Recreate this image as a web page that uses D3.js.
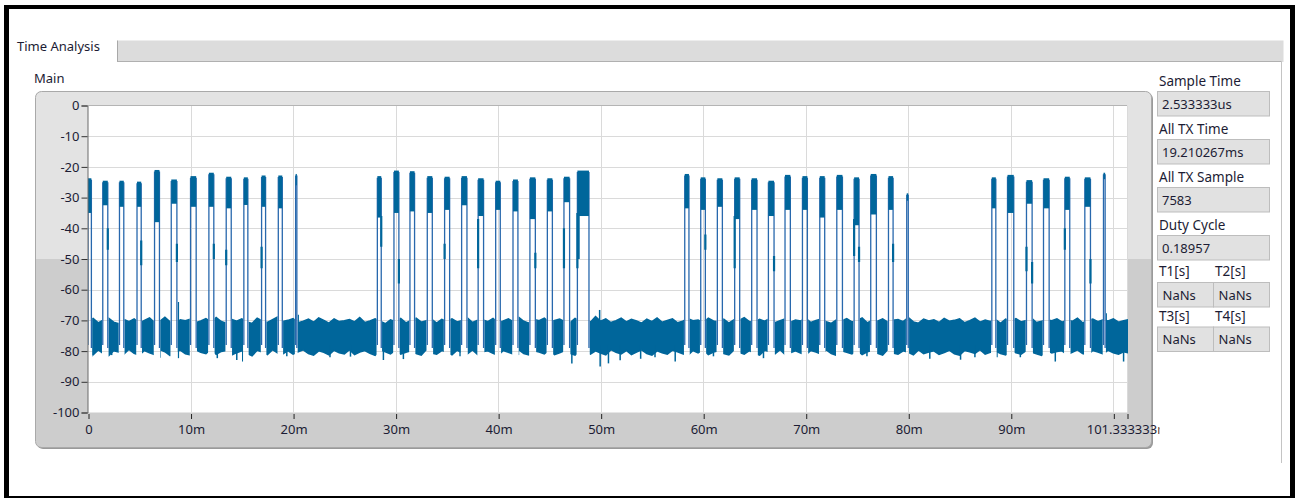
<!DOCTYPE html>
<html><head><meta charset="utf-8">
<script src="https://cdn.jsdelivr.net/npm/d3@7"></script>
<style>
body{margin:0;background:#fff;}
svg{display:block;font-family:"Noto Sans","Open Sans",sans-serif;}
</style>
</head><body>
<svg id="c" width="1295" height="498"></svg>
<script>
// ---------------- DATA ----------------
const xTicks = [0,10,20,30,40,50,60,70,80,90,100,101.333333];
const xTickLabels = ["0","10m","20m","30m","40m","50m","60m","70m","80m","90m","","101.333333m"];
const yTicks = [0,-10,-20,-30,-40,-50,-60,-70,-80,-90,-100];
const xMax = 101.333333;

// bursts (ms, dB)
const burstStart = [0.0,1.44,3.07,4.78,6.49,8.12,10.0,11.79,13.48,15.2,16.93,18.56,20.25,
  28.22,29.84,31.4,33.09,34.78,36.44,38.05,39.76,41.45,43.1,44.8,46.42,47.73,
  58.2,59.76,61.38,63.07,64.73,66.36,67.98,69.68,71.37,73.03,74.72,76.34,78.07,79.85,
  88.15,89.68,91.53,93.19,95.27,97.22,99.04];
const burstEnd = [0.33,1.93,3.49,5.19,6.97,8.67,10.55,12.27,13.97,15.59,17.32,18.95,20.37,
  28.6,30.32,31.85,33.58,35.27,36.96,38.58,40.21,41.93,43.63,45.29,46.97,48.86,
  58.61,60.21,61.87,63.56,65.25,66.91,68.5,70.16,71.85,73.58,75.2,76.89,78.52,80.0,
  88.54,90.29,92.08,93.74,95.75,97.77,99.2];
const burstTop = [-23.7,-24.5,-24.5,-24.8,-21,-24.1,-23,-21.9,-23.2,-23.4,-22.8,-22.8,-22.3,
  -23,-21.2,-21.4,-23,-23.2,-23,-23.7,-24.5,-24.1,-23.4,-23.7,-23.2,-21.2,
  -22.3,-23.4,-23.7,-23.4,-23.7,-24.5,-22.6,-23,-23,-22.6,-23.4,-22.3,-23,-28.6,
  -23.4,-22.6,-24.3,-23.7,-23.2,-23.4,-21.9];
const burstBottom = [-35,-32.5,-33,-33,-38,-32,-33,-33,-33.5,-32.4,-33,-33.5,-26,
  -36.5,-35,-34.5,-35,-34,-32.5,-36,-34,-34.5,-37,-34.5,-31.5,-36,
  -33.5,-34,-33,-37,-34,-36,-34,-34,-36.5,-34,-39,-35.5,-34,-31,
  -33.5,-35,-32,-33.5,-34,-33,-24];
// lighter edge traces inside bursts: [ms, from dB, to dB]
const burstTails = [[1.93,-40,-47],[5.19,-44,-52],[8.67,-45,-51],[12.27,-45,-50],[13.48,-47,-52],[16.93,-46,-53],
  [28.6,-36,-46],[30.32,-50,-58],[34.78,-45,-50],[38.05,-37,-53],[43.63,-48,-53],[46.42,-40,-53],[47.73,-35,-53],[47.85,-35,-50],
  [60.21,-42,-47],[63.07,-36,-53],[66.91,-49,-54],[74.72,-37,-49],[75.2,-46,-51],[78.52,-45,-51],
  [91.53,-46,-54],[92.08,-51,-58],[95.27,-40,-47],[97.77,-50,-58]];

// noise floor envelope, every 0.5 ms from 0 to 101.5 ms
const noiseTop = [-70.2,-69.4,-70.8,-69.9,-69.3,-70.6,-71.1,-69.7,-70.4,-69.5,
-70.9,-70.0,-69.2,-70.7,-70.3,-69.0,-70.5,-71.2,-69.8,-70.1,
-69.6,-70.8,-70.2,-69.4,-70.6,-69.1,-70.4,-70.9,-69.7,-70.3,
-69.5,-70.5,-71.0,-69.3,-70.2,-70.7,-69.8,-68.9,-70.4,-70.0,
-69.4,-70.8,-70.3,-69.6,-70.6,-69.2,-70.0,-70.9,-69.5,-70.4,
-70.1,-69.7,-70.5,-69.1,-70.7,-70.2,-69.5,-70.3,-71.1,-69.8,
-70.4,-69.4,-70.8,-70.0,-69.3,-70.6,-70.1,-69.6,-70.9,-69.7,
-70.3,-69.5,-70.5,-70.0,-69.2,-70.7,-70.0,-69.8,-70.4,-69.4,
-70.8,-70.2,-69.5,-70.5,-69.0,-70.3,-70.9,-69.7,-70.1,-69.3,
-70.6,-70.0,-69.6,-70.4,-70.8,-69.4,-70.2,-69.8,-70.6,-68.8,
-70.3,-69.5,-70.7,-70.1,-69.3,-70.5,-69.7,-70.2,-70.9,-69.6,
-70.4,-69.2,-70.6,-70.0,-69.5,-70.8,-70.3,-69.4,-70.1,-69.9,
-70.7,-69.3,-70.2,-70.5,-69.6,-70.9,-69.8,-70.0,-69.1,-70.4,
-70.6,-69.7,-70.3,-69.4,-70.8,-70.1,-69.5,-70.6,-69.9,-70.2,
-69.3,-70.7,-70.0,-69.6,-70.4,-71.0,-69.8,-70.2,-69.4,-70.5,
-70.1,-69.2,-70.8,-69.9,-70.3,-69.5,-70.6,-70.0,-69.7,-70.4,
-69.1,-70.5,-70.9,-69.6,-70.2,-69.8,-70.7,-69.4,-70.3,-70.0,
-69.5,-70.8,-70.1,-69.3,-70.6,-69.9,-70.4,-69.7,-71.0,-69.6,
-70.2,-69.4,-70.5,-70.0,-69.2,-70.7,-70.3,-69.8,-70.1,-69.5,
-70.6,-69.9,-70.3,-69.3,-70.8,-70.0,-69.6,-70.4,-69.8,-70.2,
-69.5,-70.6,-70.1,-69.8];
const noiseBottom = [-80.4,-81.2,-79.6,-80.8,-81.5,-79.9,-80.3,-81.0,-79.4,-80.7,
-81.3,-79.8,-80.5,-81.1,-79.5,-80.2,-81.4,-80.0,-79.7,-80.9,
-81.2,-79.6,-80.4,-80.8,-79.3,-81.0,-80.1,-79.8,-81.3,-80.5,
-79.9,-80.7,-81.5,-79.7,-80.3,-81.1,-79.5,-80.6,-80.9,-79.8,
-81.0,-80.2,-79.6,-80.8,-81.3,-79.9,-80.4,-81.2,-79.7,-80.5,
-80.9,-79.5,-81.1,-80.3,-79.8,-80.7,-81.4,-79.6,-80.2,-80.9,
-79.7,-81.0,-80.4,-79.9,-80.8,-81.3,-79.5,-80.6,-81.0,-79.8,
-80.3,-81.2,-79.7,-80.5,-80.9,-79.6,-81.1,-80.2,-79.9,-80.7,
-81.4,-79.8,-80.4,-81.0,-79.5,-80.8,-81.2,-79.9,-80.3,-80.9,
-79.6,-81.1,-80.5,-79.8,-80.7,-81.3,-79.7,-80.2,-81.0,-79.9,
-80.6,-81.2,-79.5,-80.4,-80.9,-79.8,-81.1,-80.3,-79.6,-80.8,
-81.3,-79.9,-80.5,-81.0,-79.7,-80.2,-80.9,-81.4,-79.8,-80.6,
-79.5,-81.1,-80.3,-79.9,-80.8,-81.2,-79.6,-80.4,-81.0,-79.8,
-80.7,-81.3,-79.7,-80.2,-80.9,-79.5,-81.1,-80.5,-79.9,-80.6,
-81.2,-79.8,-80.3,-81.0,-79.6,-80.8,-81.4,-79.9,-80.4,-80.9,
-79.7,-81.1,-80.2,-79.8,-80.7,-81.3,-79.5,-80.6,-81.0,-79.9,
-80.4,-81.2,-79.6,-80.8,-80.3,-79.9,-81.1,-80.5,-79.7,-80.9,
-81.3,-79.8,-80.2,-80.7,-79.5,-81.0,-80.4,-79.9,-80.8,-81.2,
-79.6,-80.5,-81.0,-79.8,-80.3,-80.9,-81.4,-79.7,-80.6,-80.1,
-79.9,-81.1,-80.4,-79.6,-80.8,-81.2,-79.8,-80.3,-80.9,-79.7,
-80.5,-81.0,-80.2,-80.6];
// isolated noise spikes [ms, dB]
const noiseSpikes = [[0.36,-81.8],[2.31,-81.3],[7.02,-82.2],[8.81,-82.3],[8.81,-64],[12.61,-82.3],[14.51,-82.9],
  [15.09,-83.4],[16.95,-81.7],[19.39,-81.7],[20.5,-68.2],[23.6,-82],[25.6,-81.8],[28.81,-82.9],[30.76,-82.6],
  [36.29,-81.7],[41.98,-81.3],[47.19,-84],[49.95,-85],[49.9,-66.6],[50.76,-84],[51.9,-83],[53.9,-82.5],
  [55.3,-82],[57.27,-83.4],[61.0,-81.7],[65.88,-82.3],[70.12,-84.5],[75.97,-81.7],[82.1,-82.5],[85.1,-82.8],
  [86.5,-82],[88.65,-82],[90.93,-82],[94.34,-83.4],[97.43,-82.3],[99.3,-67.7],[101.0,-83.4]];

const infoLabels = ["Sample Time","All TX Time","All TX Sample","Duty Cycle"];
const infoValues = ["2.533333us","19.210267ms","7583","0.18957"];
const cursorLabels = ["T1[s]","T2[s]","T3[s]","T4[s]"];
const cursorValues = ["NaNs","NaNs","NaNs","NaNs"];

// ---------------- DRAW ----------------
const svg = d3.select("#c");
const defs = svg.append("defs");
const TXT = "#1c1c34";
const SIG = "#00669b";
const EDGE = "#2868ad";
const FS = 13;

// outer black frame
svg.append("rect").attr("x",4).attr("y",5).attr("width",1291).attr("height",4).attr("fill","#000");
svg.append("rect").attr("x",4).attr("y",5).attr("width",5).attr("height",493).attr("fill","#000");
svg.append("rect").attr("x",1290).attr("y",5).attr("width",5).attr("height",493).attr("fill","#000");
svg.append("rect").attr("x",4).attr("y",496).attr("width",1291).attr("height",2).attr("fill","#000");

// tab row
svg.append("rect").attr("x",117.5).attr("y",40.5).attr("width",1166).attr("height",21.5)
  .attr("fill","#dcdcdc").attr("stroke","none");
svg.append("line").attr("x1",117.5).attr("x2",117.5).attr("y1",40.5).attr("y2",62).attr("stroke","#a8a8a8");
svg.append("line").attr("x1",117.5).attr("x2",1281.5).attr("y1",61.5).attr("y2",61.5).attr("stroke","#b0b0b0");
svg.append("line").attr("x1",1281.5).attr("x2",1281.5).attr("y1",61.5).attr("y2",463).attr("stroke","#c4c4c4");
svg.append("text").attr("x",17).attr("y",51).attr("font-size",FS).attr("fill",TXT).text("Time Analysis");
svg.append("text").attr("x",34).attr("y",83).attr("font-size",FS).attr("fill",TXT).text("Main");

// chart frame
const fx=35.5, fy=91.5, fw=1116, fh=356, split=259;
svg.append("rect").attr("x",fx+1.5).attr("y",fy+1.5).attr("width",fw).attr("height",fh).attr("rx",6)
  .attr("fill","#9a9a9a");
defs.append("clipPath").attr("id","frameClip").append("rect")
  .attr("x",fx).attr("y",fy).attr("width",fw).attr("height",fh).attr("rx",6);
const fr = svg.append("g").attr("clip-path","url(#frameClip)");
fr.append("rect").attr("x",fx).attr("y",fy).attr("width",fw).attr("height",fh).attr("fill","#cdcdcd");
fr.append("rect").attr("x",fx).attr("y",fy).attr("width",fw).attr("height",split-fy).attr("fill","#e3e3e3");
svg.append("rect").attr("x",fx).attr("y",fy).attr("width",fw).attr("height",fh).attr("rx",6)
  .attr("fill","none").attr("stroke","#a9a9a9");

// scales
const x = d3.scaleLinear().domain([0,xMax]).range([88,1127]);
const y = d3.scaleLinear().domain([0,-100]).range([105.5,412.5]);

// plot background
svg.append("rect").attr("x",x(0)).attr("y",y(0)).attr("width",x(xMax)-x(0)).attr("height",y(-100)-y(0)).attr("fill","#fff");

// grid
const grid = svg.append("g").attr("stroke","#dadada").attr("stroke-width",1);
xTicks.filter(d=>d>0 && d<xMax).forEach(d=>{
  grid.append("line").attr("x1",Math.round(x(d))+0.5).attr("x2",Math.round(x(d))+0.5).attr("y1",y(0)).attr("y2",y(-100));
});
yTicks.filter(d=>d<0 && d>-100).forEach(d=>{
  grid.append("line").attr("x1",x(0)).attr("x2",x(xMax)).attr("y1",Math.round(y(d))+0.5).attr("y2",Math.round(y(d))+0.5);
});
svg.append("line").attr("x1",x(0)).attr("x2",x(xMax)).attr("y1",y(0)).attr("y2",y(0)).attr("stroke","#b4b4b4");
svg.append("line").attr("x1",x(xMax)+0.5).attr("x2",x(xMax)+0.5).attr("y1",y(0)).attr("y2",y(-100)).attr("stroke","#dadada");

// ---- signal ----
defs.append("clipPath").attr("id","plotClip").append("rect")
  .attr("x",x(0)).attr("y",y(0)-2).attr("width",x(xMax)-x(0)+1).attr("height",y(-100)-y(0)+2);
const sig = svg.append("g").attr("clip-path","url(#plotClip)");

// noise clip: gaps between bursts
const gaps = [];
let prev = -1;
burstStart.forEach((s,i)=>{ gaps.push([prev, s]); prev = burstEnd[i]; });
gaps.push([prev, xMax+1]);
const nclip = defs.append("clipPath").attr("id","noiseClip");
gaps.forEach(g=>{
  nclip.append("rect").attr("x",x(g[0])+0.8).attr("y",0).attr("width",Math.max(0,x(g[1])-x(g[0])-1.6)).attr("height",498);
});
const noiseData = noiseTop.map((v,i)=>({t:i*0.5, hi:v, lo:noiseBottom[i]}));
const area = d3.area().x(d=>x(d.t)).y0(d=>y(d.lo)).y1(d=>y(d.hi));
const ng = sig.append("g").attr("clip-path","url(#noiseClip)");
ng.append("path").datum(noiseData).attr("d",area).attr("fill",SIG).attr("stroke",SIG).attr("stroke-width",1.6).attr("stroke-linejoin","miter");
ng.selectAll("line.spk").data(noiseSpikes).join("line").attr("class","spk")
  .attr("x1",d=>x(d[0])).attr("x2",d=>x(d[0]))
  .attr("y1",d=>y(d[1] < -75 ? -78 : -72)).attr("y2",d=>y(d[1]))
  .attr("stroke",SIG).attr("stroke-width",1.5);

// bursts
const bursts = burstStart.map((s,i)=>({s, e:burstEnd[i], top:burstTop[i], bot:burstBottom[i]}));
sig.selectAll("line.rise").data(bursts).join("line").attr("class","rise")
  .attr("x1",d=>x(d.s)).attr("x2",d=>x(d.s)).attr("y1",y(-78)).attr("y2",d=>y(d.top-0.5))
  .attr("stroke",EDGE).attr("stroke-width",1.3);
sig.selectAll("line.fall").data(bursts).join("line").attr("class","fall")
  .attr("x1",d=>x(d.e)).attr("x2",d=>x(d.e)).attr("y1",d=>y(d.top-0.5)).attr("y2",y(-79))
  .attr("stroke",EDGE).attr("stroke-width",1.3);
sig.selectAll("rect.body").data(bursts).join("rect").attr("class","body")
  .attr("x",d=>x(d.s)).attr("width",d=>Math.max(0.5,x(d.e)-x(d.s)))
  .attr("y",d=>y(d.top)).attr("height",d=>y(d.bot)-y(d.top))
  .attr("fill",SIG);
sig.selectAll("line.tail").data(burstTails).join("line").attr("class","tail")
  .attr("x1",d=>x(d[0])).attr("x2",d=>x(d[0])).attr("y1",d=>y(d[1])).attr("y2",d=>y(d[2]))
  .attr("stroke",SIG).attr("stroke-width",2.2);

// axes
const yAxis = d3.axisLeft(y).tickValues(yTicks).tickSize(6).tickPadding(2).tickFormat(d=>String(d));
const gy = svg.append("g").attr("transform",`translate(${x(0)-0.5},0)`).call(yAxis);
gy.select(".domain").attr("stroke","#6a6a6a");
gy.selectAll(".tick line").attr("stroke","#333");
gy.selectAll("text").attr("font-size",FS).attr("fill",TXT).attr("font-family","Noto Sans, Open Sans, sans-serif");

defs.append("clipPath").attr("id","labClip").append("rect").attr("x",0).attr("y",0).attr("width",1159).attr("height",498);
const xAxis = d3.axisBottom(x).tickValues(xTicks).tickSize(5).tickPadding(6)
  .tickFormat((d,i)=>xTickLabels[i]);
const gx = svg.append("g").attr("transform",`translate(0.5,${y(-100)+1.5})`).attr("clip-path","url(#labClip)").call(xAxis);
gx.select(".domain").remove();
gx.selectAll(".tick line").attr("stroke","#222");
gx.selectAll("text").attr("font-size",FS).attr("fill",TXT).attr("font-family","Noto Sans, Open Sans, sans-serif");

// right info panel
const px = 1157.5, pw = 112;
infoLabels.forEach((lab,i)=>{
  const top = 91.5 + i*48;
  svg.append("text").attr("x",1159).attr("y",top-6).attr("font-size",13.5).attr("fill",TXT).text(lab);
  svg.append("rect").attr("x",px).attr("y",top).attr("width",pw).attr("height",24.5)
    .attr("fill","#e1e1e1").attr("stroke","#bdbdbd");
  svg.append("text").attr("x",1162).attr("y",top+17).attr("font-size",FS).attr("fill",TXT).text(infoValues[i]);
});
cursorLabels.forEach((lab,i)=>{
  const row = Math.floor(i/2), col = i%2;
  const top = 282.5 + row*44.5;
  const bx = px + col*56;
  svg.append("text").attr("x",1159 + col*56).attr("y",top-6.5).attr("font-size",13.5).attr("fill",TXT).text(lab);
  svg.append("rect").attr("x",bx).attr("y",top).attr("width",56).attr("height",24.5)
    .attr("fill","#e1e1e1").attr("stroke","#bdbdbd");
  svg.append("text").attr("x",bx+5).attr("y",top+17).attr("font-size",FS).attr("fill",TXT).text(cursorValues[i]);
});
</script>
</body></html>
